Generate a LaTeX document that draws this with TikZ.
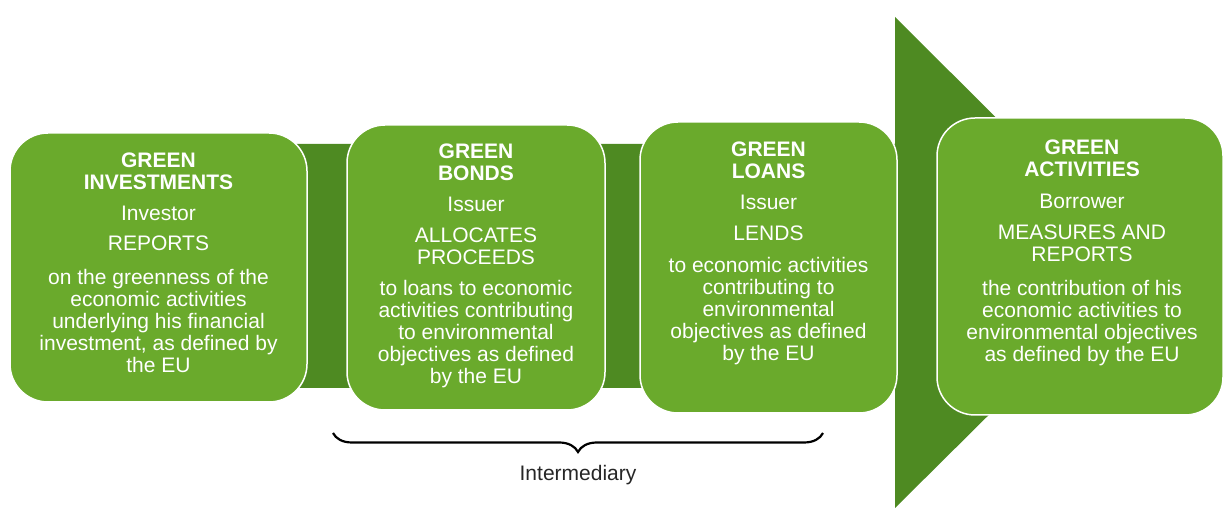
\documentclass[tikz,border=0pt]{standalone}
\usepackage{fontspec}
\setmainfont{Liberation Sans}
\usetikzlibrary{decorations.pathreplacing}

\definecolor{leafgreen}{RGB}{106,170,44}
\definecolor{darkleaf}{RGB}{78,138,34}
\definecolor{captiongray}{RGB}{38,38,38}

\tikzset{
	stagebox/.style={draw=white, line width=1.5pt, fill=leafgreen, rounded corners=38pt, inner sep=0pt},
	stagetext/.style={anchor=north, align=center, text=white, inner sep=0pt, font=\fontsize{21}{22}\selectfont},
	bracepen/.style={draw=black, line width=2.2pt, decorate, decoration={brace, amplitude=19pt}},
}

\begin{document}
\begin{tikzpicture}[x=1pt, y=1pt]
		\useasboundingbox (0,0) rectangle (1225,510);
		
		\fill[darkleaf] (150,366) -- (895,366) -- (895,493) -- (1142,247) -- (895,2) -- (895,122) -- (150,122) -- cycle;
		
		\node[stagebox, minimum width=297pt, minimum height=269pt] (inv) at (158.5,242.5) {};
		\node[stagebox, minimum width=258pt, minimum height=285pt] (bond) at (476,242.5) {};
		\node[stagebox, minimum width=257pt, minimum height=291pt] (loan) at (768.5,242.5) {};
		\node[stagebox, minimum width=286pt, minimum height=297pt] (act) at (1080,243.5) {};
		
		\node[stagetext] (invtxt) at (158.5,357) {\textbf{GREEN}\\\textbf{INVESTMENTS}\\[9pt]
			Investor\\[8pt] REPORTS\\[12pt]
			on the greenness of the\\economic activities\\underlying his financial\\investment, as defined by\\the EU};
		\node[stagetext] (bondtxt) at (476,366) {\textbf{GREEN}\\\textbf{BONDS}\\[9pt]
			Issuer\\[9pt] ALLOCATES\\PROCEEDS\\[9pt]
			to loans to economic\\activities contributing\\to environmental\\objectives as defined\\by the EU};
		\node[stagetext] (loantxt) at (768.5,368) {\textbf{GREEN}\\\textbf{LOANS}\\[9pt]
			Issuer\\[9pt] LENDS\\[10pt]
			to economic activities\\contributing to\\environmental\\objectives as defined\\by the EU};
		\node[stagetext] (acttxt) at (1082,370) {\textbf{GREEN}\\\textbf{ACTIVITIES}\\[10pt]
			Borrower\\[9pt] MEASURES AND\\REPORTS\\[12pt]
			the contribution of his\\economic activities to\\environmental objectives\\as defined by the EU};
		
		\coordinate (bracel) at (333,77);
		\coordinate (bracer) at (823,77);
		\draw[bracepen] (bracer) -- (bracel);
		\node[text=captiongray, font=\fontsize{21}{22}\selectfont] (interm) at (578,35) {Intermediary};
	\end{tikzpicture}
\end{document}
